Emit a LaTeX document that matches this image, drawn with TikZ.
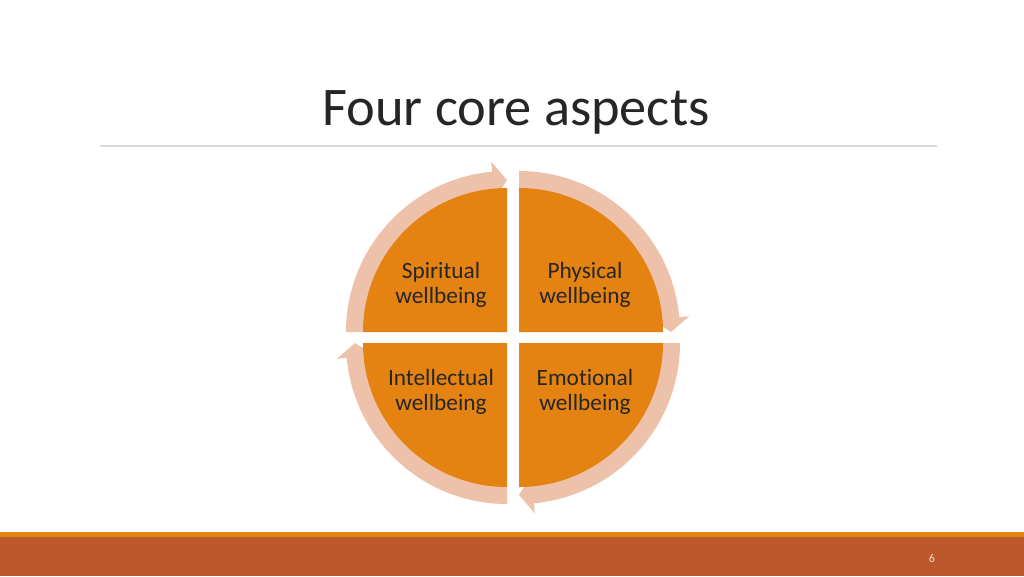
\documentclass[tikz,border=0pt]{standalone}
\usepackage{fontspec}
\setmainfont{Carlito}[Ligatures=NoCommon]
\definecolor{qorange}{HTML}{E48312}
\definecolor{ringc}{HTML}{EEC2AA}
\definecolor{bandc}{HTML}{BD582C}
\definecolor{txt}{HTML}{262626}
\definecolor{rulec}{HTML}{D9D9D9}
\definecolor{pgc}{HTML}{F6D9C8}
\newcommand\cycarrow[3]{% #1 corner, #2 start angle, #3 end angle
  \begin{scope}[shift={#1}]
    \pgfmathsetmacro\hb{#3-5.3}
    \fill[ringc] (#2:161) arc[start angle=#2, end angle=\hb, radius=161]
      -- (\hb:171) -- (#3:152) -- (\hb:133) -- (\hb:143)
      arc[start angle=\hb, end angle=#2, radius=143] -- cycle;
  \end{scope}}
\newcommand\quadsector[3]{% #1 corner, #2 start, #3 end
  \fill[qorange] #1 -- ++(#2:144) arc[start angle=#2, end angle=#3, radius=144] -- cycle;}
\begin{document}
\begin{tikzpicture}[x=0.75pt,y=-0.75pt,
  lbl/.style={font=\fontsize{17.5}{18.75}\selectfont,text=txt,align=center,anchor=base}]
\useasboundingbox (0,0) rectangle (1024,576);
\fill[white] (0,0) rectangle (1024,576);
% title
\node[anchor=base,font=\fontsize{40.8}{48}\selectfont,text=txt,inner sep=0] (title) at (516,125) {Four core aspects};
\draw[rulec,line width=1.1pt] (100,146) -- (937,146);
% rings with arrows
\cycarrow{(507,332)}{180}{270}
\cycarrow{(519,332)}{270}{360}
\cycarrow{(519,343)}{0}{90}
\cycarrow{(507,343)}{90}{180}
% quadrants
\quadsector{(507,332)}{180}{270}
\quadsector{(519,332)}{270}{360}
\quadsector{(519,343)}{0}{90}
\quadsector{(507,343)}{90}{180}
% labels (anchor=base is the last line's baseline)
\node[lbl] (sp) at (441,303) {Spiritual\\wellbeing};
\node[lbl] (ph) at (585,303) {Physical\\wellbeing};
\node[lbl] (in) at (441,410) {Intellectual\\wellbeing};
\node[lbl] (em) at (585,410) {Emotional\\wellbeing};
% footer
\fill[qorange] (0,532) rectangle (1024,538);
\fill[bandc] (0,537) rectangle (1024,576);
\node[font=\fontsize{9}{10}\selectfont,text=pgc] (pg) at (932,558) {6};
\end{tikzpicture}
\end{document}
